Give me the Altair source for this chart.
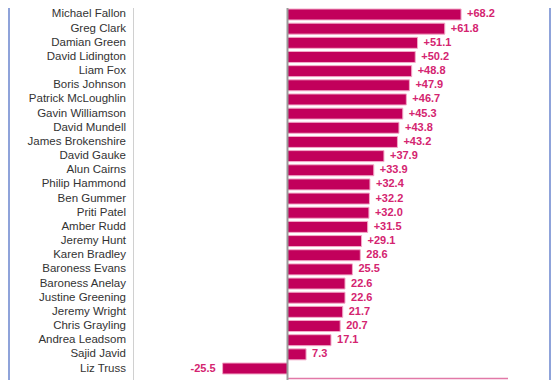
import altair as alt
import pandas as pd

names = ["Michael Fallon", "Greg Clark", "Damian Green", "David Lidington", "Liam Fox",
         "Boris Johnson", "Patrick McLoughlin", "Gavin Williamson", "David Mundell",
         "James Brokenshire", "David Gauke", "Alun Cairns", "Philip Hammond", "Ben Gummer",
         "Priti Patel", "Amber Rudd", "Jeremy Hunt", "Karen Bradley", "Baroness Evans",
         "Baroness Anelay", "Justine Greening", "Jeremy Wright", "Chris Grayling",
         "Andrea Leadsom", "Sajid Javid", "Liz Truss"]
values = [68.2, 61.8, 51.1, 50.2, 48.8, 47.9, 46.7, 45.3, 43.8, 43.2, 37.9, 33.9, 32.4,
          32.2, 32.0, 31.5, 29.1, 28.6, 25.5, 22.6, 22.6, 21.7, 20.7, 17.1, 7.3, -25.5]
labels = ["+68.2", "+61.8", "+51.1", "+50.2", "+48.8", "+47.9", "+46.7", "+45.3", "+43.8",
          "+43.2", "+37.9", "+33.9", "+32.4", "+32.2", "+32.0", "+31.5", "+29.1", "28.6",
          "25.5", "22.6", "22.6", "21.7", "20.7", "17.1", "7.3", "-25.5"]

df = pd.DataFrame({"name": names, "value": values, "label": labels,
                   "idx": list(range(len(names)))})

W, H = 544, 372
xscale = alt.Scale(domain=[-109.82, 103.93], range=[0, W], nice=False, zero=False)
yscale = alt.Scale(domain=[-0.459, 25.812], range=[0, H], nice=False, zero=False)

BAR = "#C2005B"
LBL = "#D42470"
FONT = "Liberation Sans"

base = alt.Chart(df)

bars = base.transform_calculate(
    y0="datum.idx - 0.388", y1="datum.idx + 0.388", zero="0"
).mark_rect(fill=BAR, stroke="#F3A9C8", strokeWidth=1).encode(
    x=alt.X("value:Q", scale=xscale, axis=None),
    x2="zero:Q",
    y=alt.Y("y0:Q", scale=yscale, axis=None),
    y2="y1:Q",
)

pos_text = base.transform_filter("datum.value >= 0").mark_text(
    align="left", baseline="middle", dx=6, font=FONT, fontSize=11, fontWeight="bold", color=LBL
).encode(
    x=alt.X("value:Q", scale=xscale, axis=None),
    y=alt.Y("idx:Q", scale=yscale, axis=None),
    text="label:N",
)

neg_text = base.transform_filter("datum.value < 0").mark_text(
    align="right", baseline="middle", dx=-7, font=FONT, fontSize=11, fontWeight="bold", color=LBL
).encode(
    x=alt.X("value:Q", scale=xscale, axis=None),
    y=alt.Y("idx:Q", scale=yscale, axis=None),
    text="label:N",
)

name_text = base.mark_text(
    align="right", baseline="middle", font=FONT, fontSize=11.5, color="#333333"
).encode(
    x=alt.value(118),
    y=alt.Y("idx:Q", scale=yscale, axis=None),
    text="name:N",
)

one = alt.Chart(pd.DataFrame({"zero": [0]}))

zero_line = one.mark_rule(color="#9A9A9A", strokeWidth=2).encode(
    x=alt.X("zero:Q", scale=xscale, axis=None), y=alt.value(0), y2=alt.value(H)
)

sep_line = one.mark_rule(color="#D0D0D0", strokeWidth=1).encode(
    x=alt.value(125.5), y=alt.value(0), y2=alt.value(H)
)

left_border = one.mark_rule(color="#8FA3DA", strokeWidth=2).encode(
    x=alt.value(1), y=alt.value(0), y2=alt.value(H)
)
right_border = one.mark_rule(color="#8FA3DA", strokeWidth=2).encode(
    x=alt.value(542), y=alt.value(0), y2=alt.value(H)
)
bottom_line = one.mark_rule(color="#E279A8", strokeWidth=1.5).encode(
    x=alt.value(280), x2=alt.value(500), y=alt.value(370.5)
)

chart = alt.layer(
    sep_line, left_border, right_border, bottom_line, bars, zero_line,
    pos_text, neg_text, name_text
).properties(
    width=W, height=H, autosize=alt.AutoSizeParams(type="none"), padding=0,
    background="white"
).configure_view(stroke=None)

chart.save("out.html", embed_options={"renderer": "svg", "actions": False})
